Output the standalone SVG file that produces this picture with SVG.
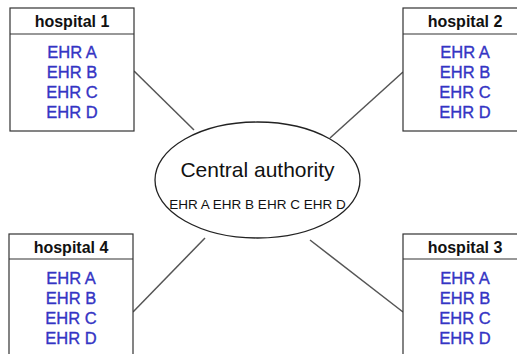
<svg xmlns="http://www.w3.org/2000/svg" width="517" height="354" viewBox="0 0 517 354">
<style>
.box{fill:#fff;stroke:#333;stroke-width:1.2}
.hdr{font-family:"Liberation Sans",Arial,sans-serif;font-weight:bold;font-size:16px;fill:#111;text-anchor:middle}
.ehr{font-family:"Liberation Sans",Arial,sans-serif;font-size:16.5px;fill:#3434c4;stroke:#3434c4;stroke-width:0.35;text-anchor:middle}
.conn{stroke:#555;stroke-width:1.5;fill:none}
.ca{font-family:"Liberation Sans",Arial,sans-serif;font-size:21px;fill:#111;text-anchor:middle}
.cs{font-family:"Liberation Sans",Arial,sans-serif;font-size:13.5px;fill:#111;text-anchor:middle}
</style>
<rect width="517" height="354" fill="#fff"/>
<g id="connectors">
<line class="conn" x1="134" y1="71" x2="194" y2="130"/>
<line class="conn" x1="403" y1="72" x2="330" y2="138"/>
<line class="conn" x1="133" y1="312" x2="205" y2="238"/>
<line class="conn" x1="310" y1="240" x2="403" y2="312"/>
</g>
<g id="central">
<ellipse cx="257.5" cy="180" rx="102.5" ry="58" fill="#fff" stroke="#222" stroke-width="1.3"/>
<text class="ca" x="257.5" y="177">Central authority</text>
<text class="cs" x="257.5" y="209">EHR A EHR B EHR C EHR D</text>
</g>
<g id="hospital1">
<rect class="box" x="10" y="8" width="124" height="123"/>
<line x1="10" y1="34" x2="134" y2="34" stroke="#333" stroke-width="1.2"/>
<text class="hdr" x="72" y="27">hospital 1</text>
<text class="ehr" x="72" y="58">EHR A</text>
<text class="ehr" x="72" y="78">EHR B</text>
<text class="ehr" x="72" y="98">EHR C</text>
<text class="ehr" x="72" y="118">EHR D</text>
</g>
<g id="hospital2">
<rect class="box" x="403" y="8" width="124" height="123"/>
<line x1="403" y1="34" x2="527" y2="34" stroke="#333" stroke-width="1.2"/>
<text class="hdr" x="465" y="27">hospital 2</text>
<text class="ehr" x="465" y="58">EHR A</text>
<text class="ehr" x="465" y="78">EHR B</text>
<text class="ehr" x="465" y="98">EHR C</text>
<text class="ehr" x="465" y="118">EHR D</text>
</g>
<g id="hospital4">
<rect class="box" x="9" y="234" width="124" height="130"/>
<line x1="9" y1="259" x2="133" y2="259" stroke="#333" stroke-width="1.2"/>
<text class="hdr" x="71" y="253">hospital 4</text>
<text class="ehr" x="71" y="284">EHR A</text>
<text class="ehr" x="71" y="304">EHR B</text>
<text class="ehr" x="71" y="324">EHR C</text>
<text class="ehr" x="71" y="344">EHR D</text>
</g>
<g id="hospital3">
<rect class="box" x="403" y="234" width="124" height="130"/>
<line x1="403" y1="259" x2="527" y2="259" stroke="#333" stroke-width="1.2"/>
<text class="hdr" x="465" y="253">hospital 3</text>
<text class="ehr" x="465" y="284">EHR A</text>
<text class="ehr" x="465" y="304">EHR B</text>
<text class="ehr" x="465" y="324">EHR C</text>
<text class="ehr" x="465" y="344">EHR D</text>
</g>
</svg>
